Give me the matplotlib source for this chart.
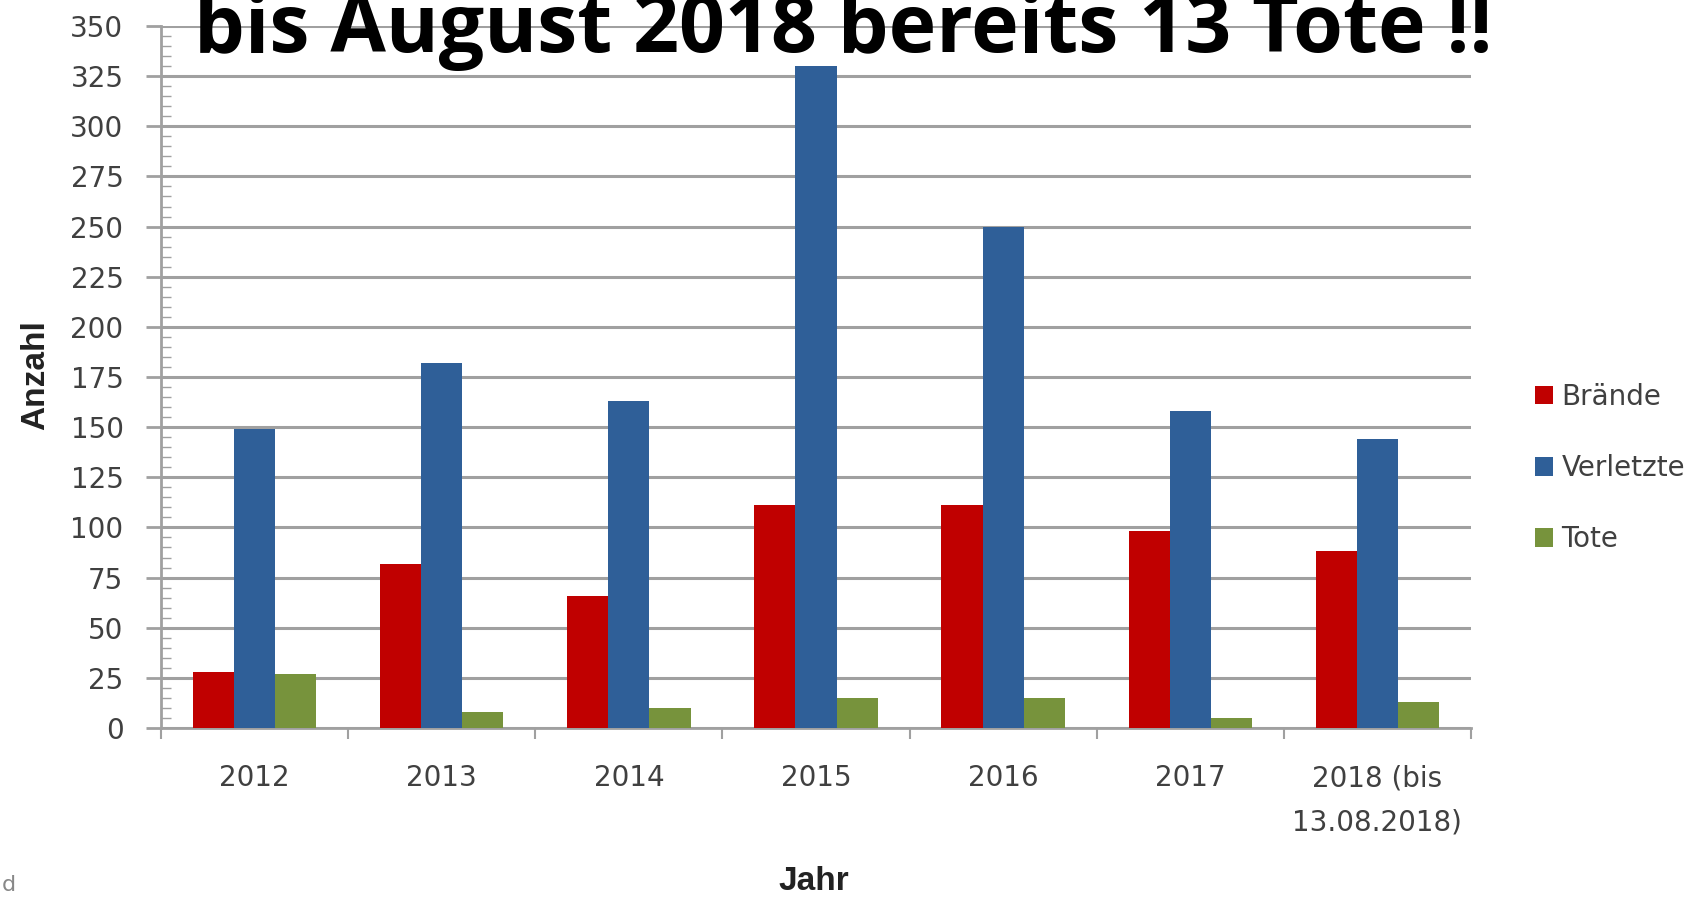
import numpy as np
import matplotlib.pyplot as plt
from matplotlib.ticker import MultipleLocator, FixedLocator

jahre = ["2012", "2013", "2014", "2015", "2016", "2017", "2018 (bis\n13.08.2018)"]
braende = [28, 82, 66, 111, 111, 98, 88]
verletzte = [149, 182, 163, 330, 250, 158, 144]
tote = [27, 8, 10, 15, 15, 5, 13]

farben = {"Brände": "#C00000", "Verletzte": "#2F5F98", "Tote": "#77933C"}
txt = "#404040"

plt.rcParams['font.family'] = ['DejaVu Sans']

fig = plt.figure(figsize=(17.06, 8.98), dpi=100)
ax = fig.add_axes([161 / 1706, 1 - 728 / 898, (1471 - 161) / 1706, (728 - 26) / 898])

x = np.arange(len(jahre))
w = 0.22
ax.bar(x - w, braende, w, color=farben["Brände"], label="Brände", zorder=3)
ax.bar(x, verletzte, w, color=farben["Verletzte"], label="Verletzte", zorder=3)
ax.bar(x + w, tote, w, color=farben["Tote"], label="Tote", zorder=3)

ax.set_xlim(-0.5, len(jahre) - 0.5)
ax.set_ylim(0, 350)
ax.yaxis.set_major_locator(MultipleLocator(25))
ax.yaxis.set_minor_locator(MultipleLocator(5))
ax.grid(axis="y", color="#a0a0a0", lw=2.2, zorder=0)

ax.set_xticks(x)
ax.set_xticklabels(jahre, fontsize=20, color=txt, linespacing=1.75)
ax.xaxis.set_minor_locator(FixedLocator(np.arange(-0.5, len(jahre), 1.0)))
ax.tick_params(axis="x", which="major", length=0, pad=26)
ax.tick_params(axis="x", which="minor", length=8, color="#a0a0a0", width=1.5, direction="out")
ax.tick_params(axis="y", which="major", length=11, color="#a0a0a0", width=2, labelsize=20,
               labelcolor=txt, pad=16)
ax.tick_params(axis="y", which="minor", length=7, color="#a0a0a0", width=1, direction="in")

for s in ["top", "right"]:
    ax.spines[s].set_visible(False)
for s in ["left", "bottom"]:
    ax.spines[s].set_color("#a0a0a0")
    ax.spines[s].set_linewidth(2)

fig.text(36 / 1706, 1 - 375 / 898, "Anzahl", rotation=90, ha="center", va="center",
         fontsize=24, fontweight="bold", color="#222222", family="Liberation Sans")
fig.text(814 / 1706, 1 - 881 / 898, "Jahr", ha="center", va="center",
         fontsize=24, fontweight="bold", color="#222222", family="Liberation Sans")

leg = fig.legend(loc="center left", bbox_to_anchor=(1535 / 1706, 1 - 468 / 898),
                 frameon=False, fontsize=20, handlelength=0.65, handleheight=0.65,
                 handletextpad=0.3, labelspacing=1.55, labelcolor=txt,
                 borderaxespad=0, borderpad=0)

fig.text(843 / 1706, 1 - 52 / 898, "bis August 2018 bereits 13 Tote !!",
         ha="center", va="baseline", fontsize=58, fontweight="bold", color="black",
         family="Open Sans")
fig.text(0.001, 1 - 895 / 898, "d", fontsize=16, color="#888888", ha="left", va="bottom")

fig.savefig("out.png", dpi=100)
